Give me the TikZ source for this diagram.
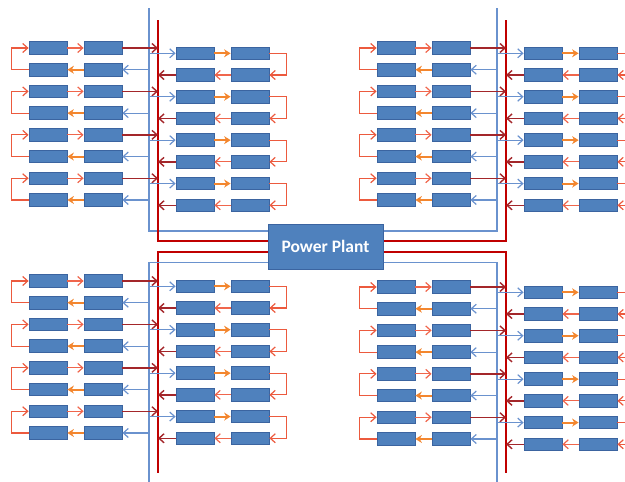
\documentclass[tikz,border=0pt]{standalone}
\usepackage{fontspec}
\newfontfamily\plantfont{Carlito}
\usetikzlibrary{arrows.meta, calc}
\definecolor{cellblue}{HTML}{4F81BD}
\definecolor{celledge}{HTML}{3B64A0}
\definecolor{busblue}{HTML}{6A92CE}
\definecolor{busred}{HTML}{C00000}
\definecolor{darkred}{HTML}{A3262A}
\definecolor{loopred}{HTML}{EC5A3E}
\definecolor{flowred}{HTML}{F0664C}
\definecolor{floworange}{HTML}{F3862E}

\begin{document}
\begin{tikzpicture}[
    x=1pt, y=-1pt,
    cell/.style={draw=celledge, fill=cellblue, line width=0.8pt, minimum width=38pt, minimum height=12.5pt, inner sep=0pt},
    plantbox/.style={draw=celledge, fill=cellblue, line width=1pt, minimum width=115pt, minimum height=45pt, text=white, font=\plantfont\bfseries\fontsize{17.5}{20}\selectfont},
    bluebus/.style={draw=busblue, line width=1.8pt},
    redbus/.style={draw=busred, line width=2.6pt},
    feed/.style={-{Straight Barb[length=5pt,width=9pt]}, line width=1.2pt, draw=busblue},
    ret/.style={-{Straight Barb[length=5pt,width=9pt]}, line width=1.4pt, draw=darkred},
    link/.style={-{Straight Barb[length=5pt,width=9pt]}, line width=1.2pt, draw=flowred},
    hop/.style={-{Stealth[length=6.5pt,width=8pt]}, line width=2pt, draw=floworange},
    turn/.style={-{Straight Barb[length=5pt,width=9pt]}, line width=1.2pt, draw=loopred}
]
\useasboundingbox (0,0) rectangle (625,482);

\node[plantbox] (plant) at (325.5,246.5) {Power Plant};

\coordinate (nw-blue) at (149,8);
\coordinate (nw-red) at (158,20);
\coordinate (ne-blue) at (497,8);
\coordinate (ne-red) at (506,20);
\coordinate (sw-red) at (158,473);
\coordinate (sw-blue) at (149,484);
\coordinate (se-red) at (506,473);
\coordinate (se-blue) at (497,484);

\draw[bluebus] ([yshift=15.5pt]plant.west) -| (nw-blue);
\draw[redbus] ([yshift=5.5pt]plant.west) -| (nw-red);
\draw[redbus] ([yshift=-5.5pt]plant.west) -| (sw-red);
\draw[bluebus] ([yshift=-16pt]plant.west) -| (sw-blue);
\draw[bluebus] ([yshift=15.5pt]plant.east) -| (ne-blue);
\draw[redbus] ([yshift=5.5pt]plant.east) -| (ne-red);
\draw[redbus] ([yshift=-5.5pt]plant.east) -| (se-red);
\draw[bluebus] ([yshift=-16pt]plant.east) -| (se-blue);

\foreach \q/\bx/\by in {tl/149/48, tr/497/48, bl/149/281, br/497/287} {
  \coordinate (\q-blue) at (\bx,\by);
  \coordinate (\q-red) at (\bx+9,\by);
  \foreach \p in {0,...,3} {
    \pgfmathsetmacro\ya{\by+43.42*\p}
    \pgfmathsetmacro\yb{\ya+21.71}
    \pgfmathsetmacro\yc{\ya+5.3}
    \pgfmathsetmacro\yd{\yc+21.71}
    \node[cell] (\q-lu\p-1) at (\bx-101,\ya) {};
    \node[cell] (\q-lu\p-2) at (\bx-46,\ya) {};
    \node[cell] (\q-ll\p-1) at (\bx-101,\yb) {};
    \node[cell] (\q-ll\p-2) at (\bx-46,\yb) {};
    \node[cell] (\q-ru\p-1) at (\bx+46,\yc) {};
    \node[cell] (\q-ru\p-2) at (\bx+101,\yc) {};
    \node[cell] (\q-rl\p-1) at (\bx+46,\yd) {};
    \node[cell] (\q-rl\p-2) at (\bx+101,\yd) {};

    \draw[link] (\q-lu\p-1) -- (\q-lu\p-2);
    \draw[ret] (\q-lu\p-2.east) -- (\q-lu\p-2.east -| \q-red);
    \draw[feed] (\q-ll\p-2.east -| \q-blue) -- (\q-ll\p-2.east);
    \draw[hop] (\q-ll\p-2) -- (\q-ll\p-1);
    \draw[turn] (\q-ll\p-1.west) -- ++(-17,0) |- (\q-lu\p-1.west);

    \draw[feed] (\q-ru\p-1.west -| \q-blue) -- (\q-ru\p-1.west);
    \draw[hop] (\q-ru\p-1) -- (\q-ru\p-2);
    \draw[turn] (\q-ru\p-2.east) -- ++(17,0) |- (\q-rl\p-2.east);
    \draw[link] (\q-rl\p-2) -- (\q-rl\p-1);
    \draw[ret] (\q-rl\p-1.west) -- (\q-rl\p-1.west -| \q-red);
  }
}
\end{tikzpicture}
\end{document}
